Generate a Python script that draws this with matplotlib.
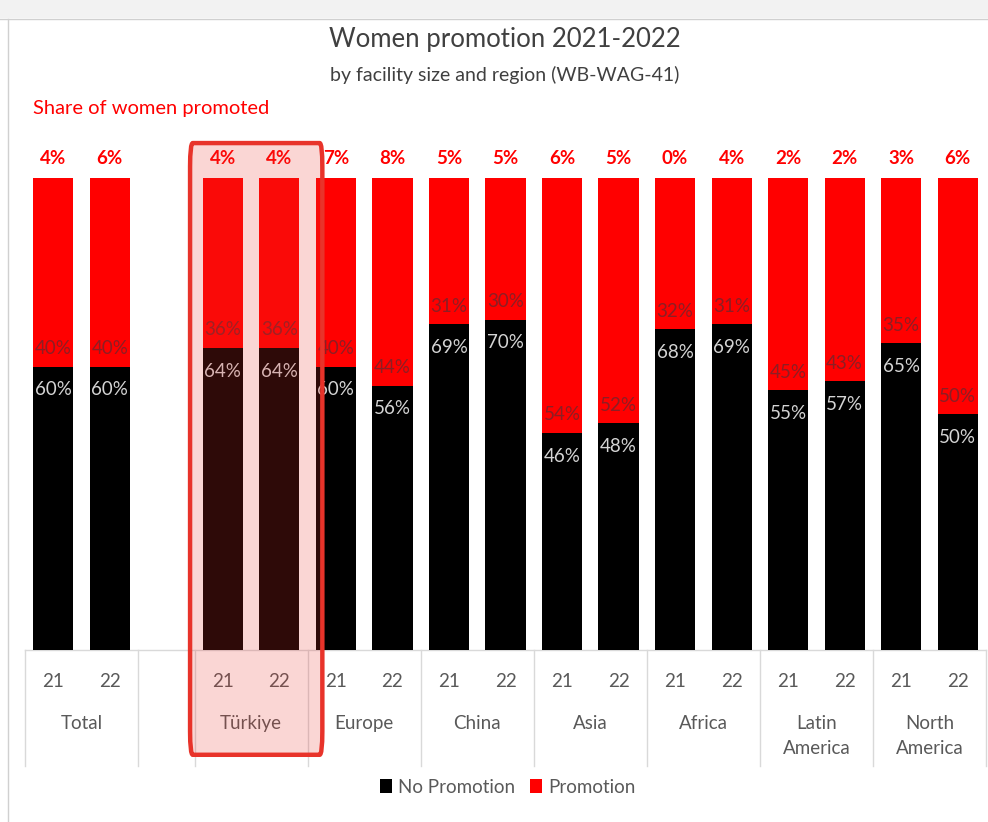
import matplotlib
matplotlib.use("Agg")
import matplotlib.pyplot as plt
from matplotlib.patches import FancyBboxPatch, Rectangle
from matplotlib.lines import Line2D

plt.rcParams['font.family'] = ['Lato', 'DejaVu Sans']

# ---- data ----
groups = ["Total", "", "Türkiye", "Europe", "China", "Asia", "Africa", "Latin\nAmerica", "North\nAmerica"]
years = ["21", "22"]
no_promotion = [60, 60, 64, 64, 60, 56, 69, 70, 46, 48, 68, 69, 55, 57, 65, 50]
promotion = [40, 40, 36, 36, 40, 44, 31, 30, 54, 52, 32, 31, 45, 43, 35, 50]
share_promoted = [4, 6, 4, 4, 7, 8, 5, 5, 6, 5, 0, 4, 2, 2, 3, 6]
highlight_group = "Türkiye"

# ---- layout of slots ----
positions, tick_labels, group_centers, separators = [], [], [], [-0.5]
slot = 0
hl_range = None
for g in groups:
    if g == "":
        group_centers.append(slot)
        slot += 1
    else:
        start = slot
        for y in years:
            positions.append(slot)
            tick_labels.append(y)
            slot += 1
        group_centers.append(start + 0.5)
        if g == highlight_group:
            hl_range = (start, slot - 1)
    separators.append(slot - 0.5)

fig = plt.figure(figsize=(9.88, 8.22), dpi=100)
ax = fig.add_axes([25 / 988, 172 / 822, 961 / 988, 472 / 822])

RED = "#FF0000"
nop = [v / 100 for v in no_promotion]
pro = [v / 100 for v in promotion]
ax.bar(positions, nop, width=0.71, color="black", label="No Promotion", zorder=2)
ax.bar(positions, pro, width=0.71, bottom=nop, color=RED, label="Promotion", zorder=2)

ax.set_xlim(-0.5, slot - 0.5)
ax.set_ylim(0, 1)
for s in ax.spines.values():
    s.set_visible(False)
ax.set_yticks([])
ax.set_xticks([])

for x, n, p, s in zip(positions, nop, pro, share_promoted):
    ax.text(x, n + 0.038, f"{round(p*100)}%", ha="center", va="center",
            fontsize=13.5, color="#8C1E24", zorder=3)
    ax.text(x, n - 0.049, f"{round(n*100)}%", ha="center", va="center",
            fontsize=13.5, color="#D4D4D4", zorder=3)
    ax.text(x, 1.042, f"{s}%", ha="center", va="center", fontsize=13.5,
            color=RED, fontweight="bold", zorder=3)

# axis labels below
gray = "#595959"
for x, t in zip(positions, tick_labels):
    ax.text(x, -0.066, t, ha="center", va="center", fontsize=13.5, color=gray)
for x, g in zip(group_centers, groups):
    if g:
        ax.text(x, -0.138, g, ha="center", va="top", fontsize=13.5, color=gray,
                linespacing=1.55)

# separators
line_col = "#D9D9D9"
ax.add_line(Line2D([-0.5, slot - 0.5], [0, 0], color=line_col, lw=1, clip_on=False, zorder=1))
for sx in separators:
    ax.add_line(Line2D([sx, sx], [0, -0.245], color=line_col, lw=1, clip_on=False, zorder=1))

# highlight box
if hl_range is not None:
    x0 = hl_range[0] - 0.58
    x1 = hl_range[1] + 0.76
    y0, y1 = -0.222, 1.074
    box = FancyBboxPatch((x0, y0), x1 - x0, y1 - y0,
                         boxstyle="round,pad=0,rounding_size=0.05",
                         facecolor=(232/255, 51/255, 42/255, 0.2),
                         edgecolor="#E8332A", lw=3.2, clip_on=False, zorder=5,
                         mutation_aspect=1)
    ax.add_patch(box)

# titles
fig.text(505 / 988, 1 - 40 / 822, "Women promotion 2021-2022", ha="center", va="center",
         fontsize=18.5, color="#404040")
fig.text(505 / 988, 1 - 75 / 822, "by facility size and region (WB-WAG-41)", ha="center",
         va="center", fontsize=14, color="#404040")
fig.text(33 / 988, 1 - 108 / 822, "Share of women promoted", ha="left", va="center",
         fontsize=14.5, color=RED)

# legend
leg = fig.legend(loc="center", bbox_to_anchor=(508 / 988, 1 - 787 / 822), ncol=2,
                 frameon=False, fontsize=13.5, handlelength=0.6, handleheight=0.7,
                 handletextpad=0.35, columnspacing=0.8)
for t in leg.get_texts():
    t.set_color(gray)

# screenshot frame
fig.patches.append(Rectangle((0, 1 - 18 / 822), 1, 18 / 822, transform=fig.transFigure,
                             facecolor="#F2F2F2", edgecolor="none", zorder=0))
fig.lines.append(Line2D([0, 1], [1 - 19 / 822, 1 - 19 / 822], transform=fig.transFigure,
                        color="#D0D0D0", lw=1))
fig.lines.append(Line2D([8 / 988, 8 / 988], [0, 1 - 19 / 822], transform=fig.transFigure,
                        color="#D0D0D0", lw=1))

fig.savefig("out.png", dpi=100)
